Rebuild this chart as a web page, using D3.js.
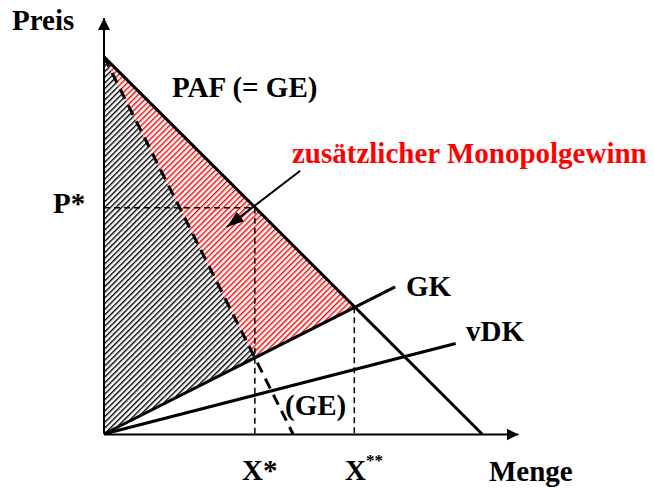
<!DOCTYPE html>
<html>
<head>
<meta charset="utf-8">
<style>
  body { margin: 0; background: #fff; }
</style>
<script src="https://cdnjs.cloudflare.com/ajax/libs/d3/7.8.5/d3.min.js"></script>
</head>
<body>
<div id="chart"></div>
<script>
// Werte in Modelleinheiten (Menge, Preis)
var paf  = [[0, 10], [10, 0]];          // Preis-Absatz-Funktion (= GE)
var ge   = [[0, 10], [5, 0]];           // Grenzerlös (gestrichelt)
var gk   = [[0, 0], [7.7, 3.9]];        // Grenzkosten
var vdk  = [[0, 0], [9.3, 2.4]];        // variable Durchschnittskosten
var grau = [[0, 0], [0, 10], [3.99, 2.02]];           // Gewinn (grau schraffiert)
var rot  = [[0, 10], [3.99, 2.02], [6.62, 3.36]];     // zusätzlicher Monopolgewinn
var xStern = 3.99, pStern = 6.0, xSternStern = 6.62, pSternStern = 3.36;
var pfeil = [[5.19, 6.98], [3.25, 5.49]];             // Hinweispfeil

var W = 654, H = 489;
var FONT = "Liberation Serif";
var x = d3.scaleLinear().domain([0, 10.95]).range([104, 518]);
var y = d3.scaleLinear().domain([0, 11.03]).range([434, 18]);

var svg = d3.select("#chart").append("svg")
    .attr("width", W)
    .attr("height", H);

var defs = svg.append("defs");

function hatch(id, col) {
    var p = defs.append("pattern")
        .attr("id", id)
        .attr("patternUnits", "userSpaceOnUse")
        .attr("width", 4)
        .attr("height", 4)
        .attr("patternTransform", "rotate(45)");
    p.append("rect").attr("width", 4).attr("height", 4).attr("fill", "#fff");
    p.append("rect").attr("width", 1.4).attr("height", 4).attr("fill", col);
}
hatch("hGrau", "#000");
hatch("hRot", "#ff0000");

function arrowMarker(id, len, wid) {
    defs.append("marker")
        .attr("id", id)
        .attr("markerUnits", "userSpaceOnUse")
        .attr("viewBox", "0 0 " + len + " " + wid)
        .attr("refX", len)
        .attr("refY", wid / 2)
        .attr("markerWidth", len)
        .attr("markerHeight", wid)
        .attr("orient", "auto")
        .append("path")
        .attr("d", "M0,0L" + len + "," + (wid / 2) + "L0," + wid + "Z")
        .attr("fill", "#000");
}
arrowMarker("axArrow", 12, 12);
arrowMarker("noteArrow", 17, 12);

var line = d3.line().x(d => x(d[0])).y(d => y(d[1]));

// Flächen
svg.append("path").datum(grau).attr("d", line.curve(d3.curveLinearClosed)).attr("fill", "url(#hGrau)");
svg.append("path").datum(rot).attr("d", line).attr("fill", "url(#hRot)");
line.curve(d3.curveLinear);

// Hilfslinien
var help = svg.append("g")
    .attr("stroke", "#000")
    .attr("stroke-width", 1.5)
    .attr("stroke-dasharray", "6,4")
    .attr("fill", "none");
help.append("path").datum([[0, pStern], [xStern, pStern]]).attr("d", line);
help.append("path").datum([[xStern, pStern], [xStern, 0]]).attr("d", line);
help.append("path").datum([[xSternStern, pSternStern], [xSternStern, 0]]).attr("d", line);

// Achsen
var xa = svg.append("g")
    .attr("transform", "translate(0," + y(0) + ")")
    .call(d3.axisBottom(x).tickValues([]).tickSizeOuter(0));
var ya = svg.append("g")
    .attr("transform", "translate(" + x(0) + ",0)")
    .call(d3.axisLeft(y).tickValues([]).tickSizeOuter(0));
svg.selectAll(".domain")
    .attr("stroke", "#000")
    .attr("stroke-width", 2);
xa.select(".domain").attr("marker-end", "url(#axArrow)");
ya.select(".domain").attr("d", "M0," + y(0) + "V" + y(11.03)).attr("marker-end", "url(#axArrow)");

// Kurven
function curve(data, dash) {
    svg.append("path")
        .datum(data)
        .attr("d", line)
        .attr("fill", "none")
        .attr("stroke", "#000")
        .attr("stroke-width", 3)
        .attr("stroke-dasharray", dash || null);
}
curve(vdk);
curve(gk);
curve(ge, "11,7");
curve(paf);

// Pfeil
svg.append("path")
    .datum(pfeil)
    .attr("d", line)
    .attr("stroke", "#000")
    .attr("stroke-width", 2)
    .attr("marker-end", "url(#noteArrow)");

// Beschriftung
function label(txt, px, py, col) {
    return svg.append("text")
        .attr("x", px)
        .attr("y", py)
        .attr("font-family", FONT)
        .attr("font-weight", "bold")
        .attr("font-size", 29)
        .attr("fill", col || "#000")
        .text(txt);
}
label("Preis", 12, 30);
label("PAF (= GE)", 172, 97);
label("zusätzlicher Monopolgewinn", 292, 163, "#ff0000");
label("P*", 53, 213);
label("GK", 406, 296);
label("vDK", 466, 341);
label("(GE)", 285, 415);
label("X*", 242, 480);
var xx = label("X", 345, 480);
xx.append("tspan").attr("font-size", 17).attr("dy", -14).text("**");
label("Menge", 489, 481);
</script>
</body>
</html>
